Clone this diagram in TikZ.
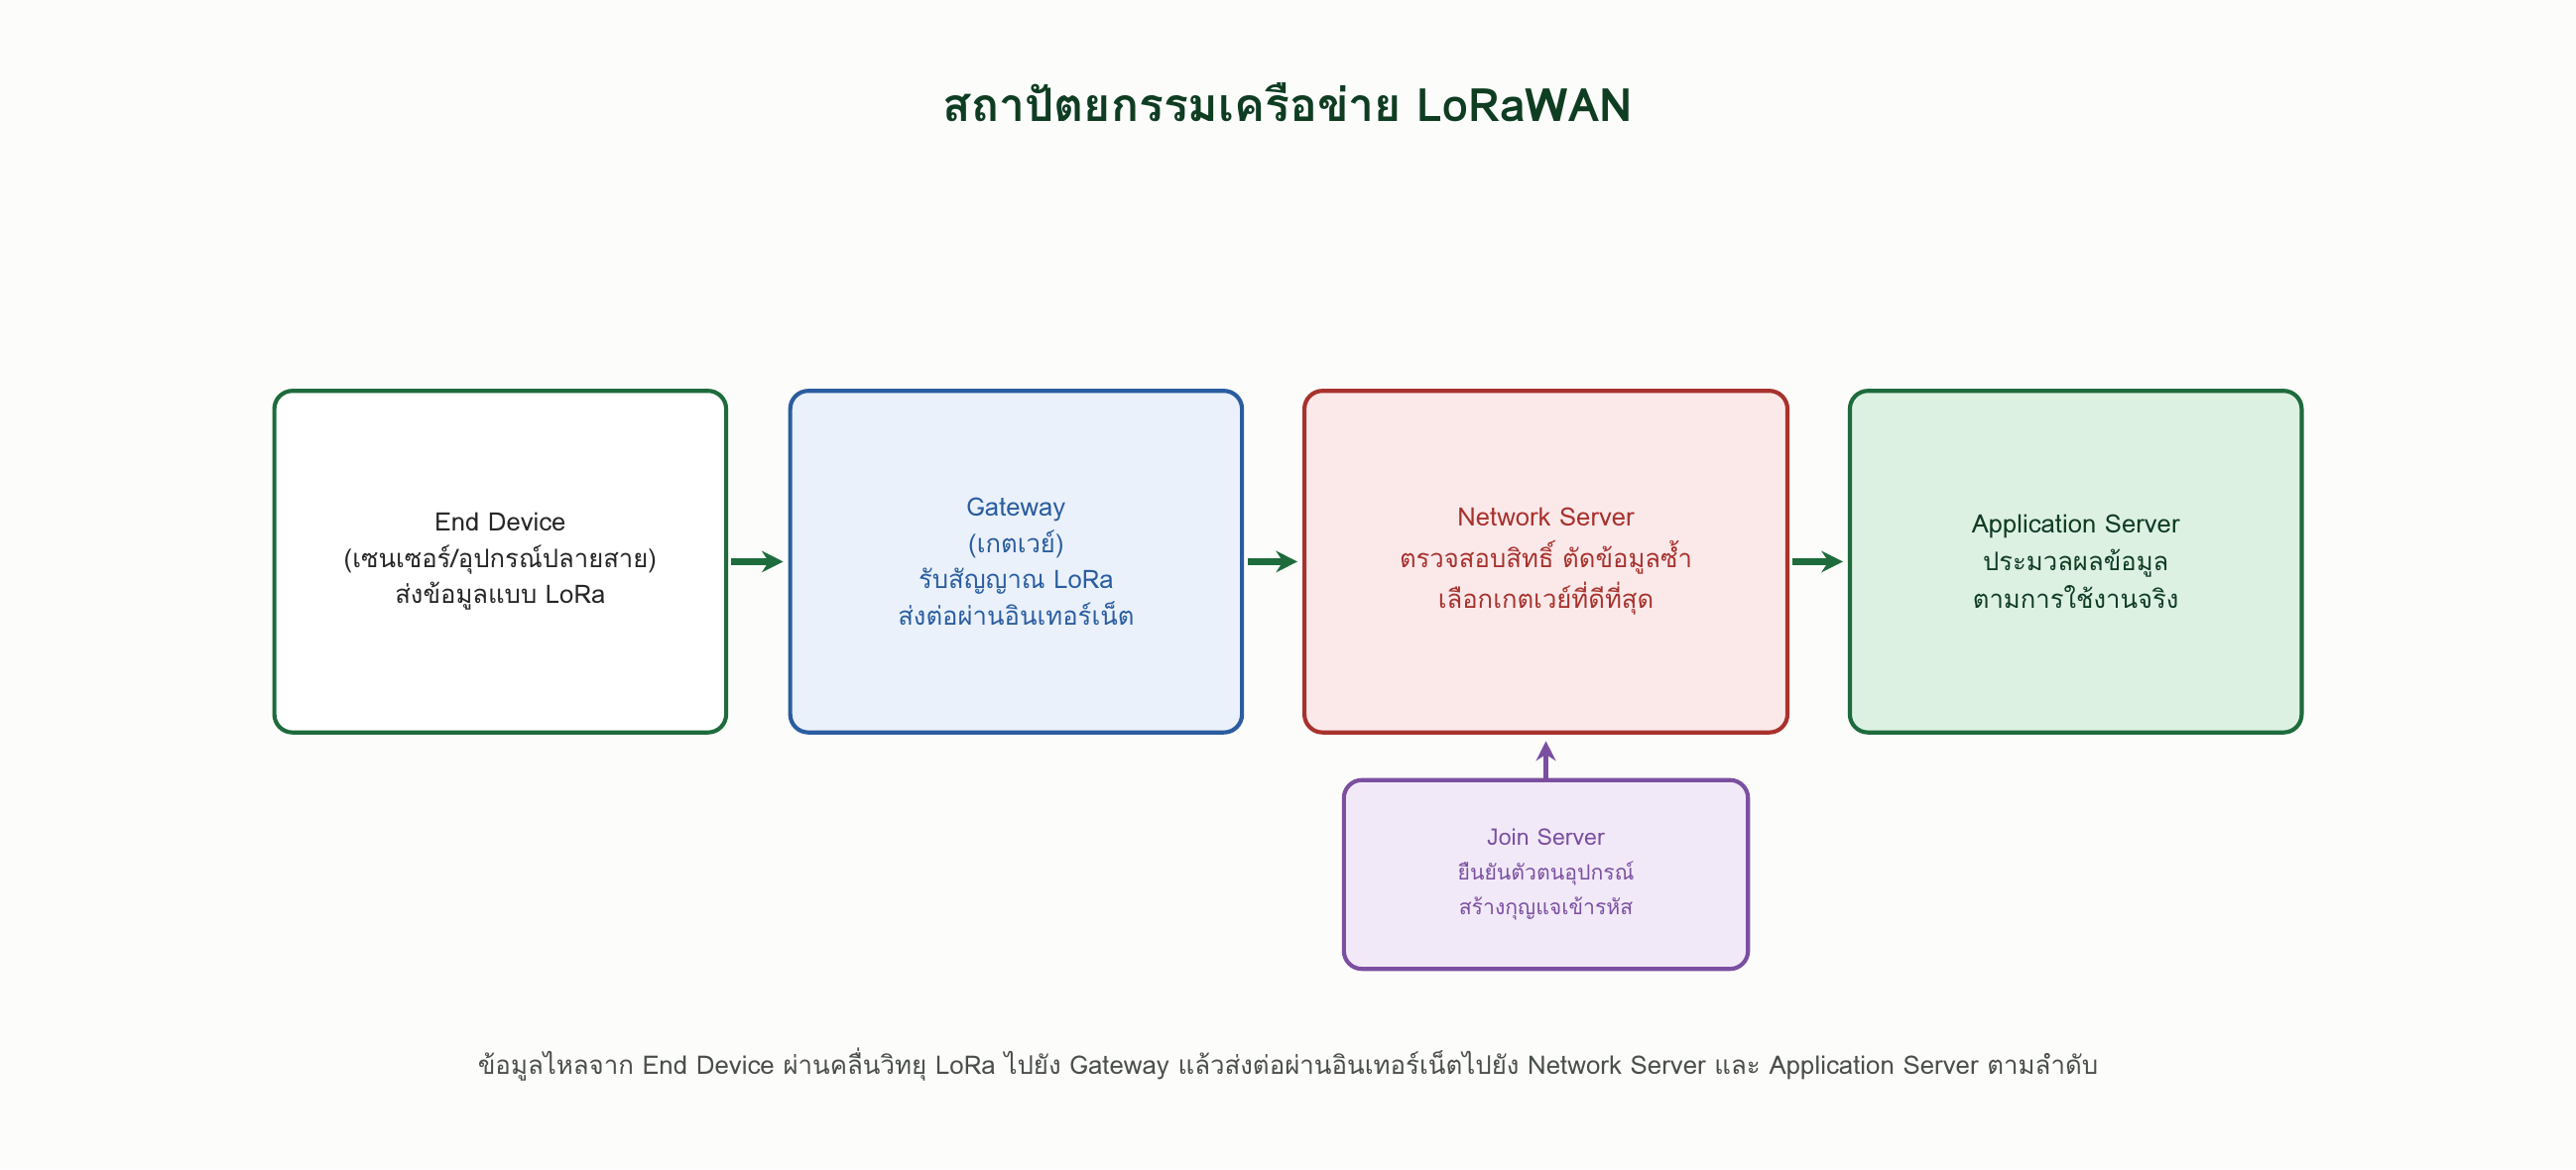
\documentclass[tikz,border=0pt]{standalone}
\usepackage{fontspec}
\setmainfont[Script=Thai]{Loma}
\usetikzlibrary{arrows.meta}
\definecolor{bg}{HTML}{FCFCFA}
\definecolor{gr}{HTML}{1E6B3C}
\definecolor{dk}{HTML}{0F3D22}
\definecolor{bl}{HTML}{2A5DA0}
\definecolor{blf}{HTML}{EAF1FB}
\definecolor{rd}{HTML}{A8322D}
\definecolor{rdf}{HTML}{FBE9EA}
\definecolor{apf}{HTML}{DDF1E3}
\definecolor{pu}{HTML}{7B4FA0}
\definecolor{puf}{HTML}{F1E9F8}
\definecolor{ft}{HTML}{4A4F4C}
\begin{document}
\begin{tikzpicture}[x=1pt,y=-1pt,
 box/.style={draw,line width=2.5pt,rounded corners=11pt,align=center,inner sep=0pt,
   font=\fontsize{15.5}{22}\selectfont},
 arr/.style={-{Stealth[length=13pt,width=13pt]},line width=4pt,gr}]
\fill[bg] (0,0) rectangle (1568,712);
\useasboundingbox (0,0) rectangle (1568,712);
\node[font=\fontsize{28}{30}\selectfont\bfseries,text=dk] (title) at (784,62) {สถาปัตยกรรมเครือข่าย LoRaWAN};
\node[box,draw=gr,fill=white,minimum width=275pt,minimum height=208pt,text=black!85] (ed) at (304.5,342)
 {End Device\\(เซนเซอร์/อุปกรณ์ปลายสาย)\\ส่งข้อมูลแบบ LoRa};
\node[box,draw=bl,fill=blf,minimum width=275pt,minimum height=208pt,text=bl] (gw) at (618.5,342)
 {Gateway\\(เกตเวย์)\\รับสัญญาณ LoRa\\ส่งต่อผ่านอินเทอร์เน็ต};
\node[box,draw=rd,fill=rdf,minimum width=294pt,minimum height=208pt,text=rd,font=\fontsize{15.5}{25}\selectfont] (ns) at (941,342)
 {Network Server\\ตรวจสอบสิทธิ์ ตัดข้อมูลซ้ำ\\เลือกเกตเวย์ที่ดีที่สุด};
\node[box,draw=gr,fill=apf,minimum width=275pt,minimum height=208pt,text=dk,font=\fontsize{15.5}{23}\selectfont] (as) at (1263.5,342)
 {Application Server\\ประมวลผลข้อมูล\\ตามการใช้งานจริง};
\node[box,draw=pu,fill=puf,minimum width=246pt,minimum height=115pt,text=pu,font=\fontsize{14}{21}\selectfont] (js) at (941,532.5)
 {Join Server\\{\fontsize{12.8}{21}\selectfont ยืนยันตัวตนอุปกรณ์}\\{\fontsize{12.8}{21}\selectfont สร้างกุญแจเข้ารหัส}};
\draw[arr] (ed.east) ++(2,0) -- ([xshift=-3pt]gw.west);
\draw[arr] (gw.east) ++(2,0) -- ([xshift=-3pt]ns.west);
\draw[arr] (ns.east) ++(2,0) -- ([xshift=-3pt]as.west);
\draw[-{Stealth[length=12pt,width=12pt]},line width=3pt,pu] (js.north) -- ([yshift=-4pt]ns.south);
\node[font=\fontsize{15.6}{18}\selectfont,text=ft] (foot) at (784,648) {ข้อมูลไหลจาก End Device ผ่านคลื่นวิทยุ LoRa ไปยัง Gateway แล้วส่งต่อผ่านอินเทอร์เน็ตไปยัง Network Server และ Application Server ตามลำดับ};
\end{tikzpicture}
\end{document}
